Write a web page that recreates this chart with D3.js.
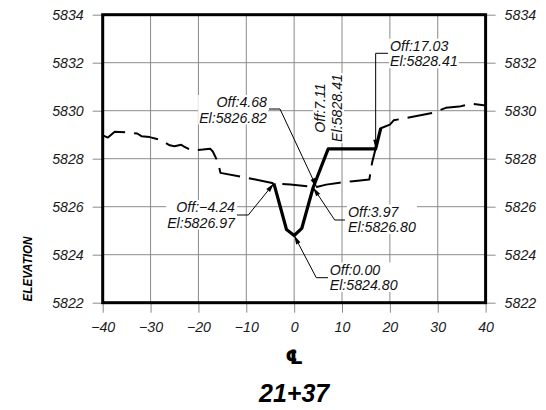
<!DOCTYPE html>
<html>
<head>
<meta charset="utf-8">
<script src="https://cdn.jsdelivr.net/npm/d3@7"></script>
<style>
  html, body { margin: 0; padding: 0; background: #fff; }
  svg { display: block; }
</style>
</head>
<body>
<svg id="chart" width="546" height="410"></svg>
<script>
// Cross section 21+37: existing ground (dashed) and ditch design (solid)

const xTicks = [-40, -30, -20, -10, 0, 10, 20, 30, 40];
const xTickLabels = ["\u221240", "\u221230", "\u221220", "\u221210", "0", "10", "20", "30", "40"];
const yTicks = [5822, 5824, 5826, 5828, 5830, 5832, 5834];
const yTickLabels = ["5822", "5824", "5826", "5828", "5830", "5832", "5834"];

// Existing ground profile
const groundOffsets = [-40, -38.9, -37.5, -35, -32.8, -31.9, -30.2, -28.2, -26, -25, -23.6, -23, -21.5,
  -19.1, -17.5, -17, -15.9, -15.4, -10.4, -8.1, -4.24, -0.8, 4.68, 6.7, 9.5, 12.3, 15.7, 16.3,
  18.1, 20.0, 20.8, 23, 27.2, 28.9, 31.7, 34.5, 37.2, 40];
const groundElevations = [5828.97, 5828.88, 5829.12, 5829.10, 5829.05, 5828.94, 5828.90, 5828.80, 5828.56,
  5828.52, 5828.58, 5828.50, 5828.35, 5828.38, 5828.41, 5828.30, 5827.85, 5827.41, 5827.22, 5827.13,
  5826.97, 5826.92, 5826.82, 5826.92, 5827.00, 5827.06, 5827.13, 5827.85, 5829.27, 5829.42, 5829.60,
  5829.68, 5829.84, 5829.91, 5830.12, 5830.17, 5830.29, 5830.22];

// Ditch design profile
const ditchOffsets = [-4.24, -1.6, 0.00, 1.6, 3.97, 7.11, 17.03, 18.1];
const ditchElevations = [5826.97, 5825.05, 5824.80, 5825.10, 5826.80, 5828.41, 5828.41, 5829.27];

// Labelled points
const calloutOffsets = [4.68, 7.11, 17.03, -4.24, 3.97, 0.00];
const calloutElevations = [5826.82, 5828.41, 5828.41, 5826.97, 5826.80, 5824.80];

const stationLabel = "21+37";
const axisTitle = "ELEVATION";
const centerlineMark = "\u2104";

const svg = d3.select("#chart");
svg.append("rect").attr("width", 546).attr("height", 410).attr("fill", "#fff");

const X0 = 102.7, X1 = 485.6, Y0 = 14.7, Y1 = 302.7;
const x = d3.scaleLinear().domain([-40, 40]).range([X0, X1]);
const y = d3.scaleLinear().domain([5822, 5834]).range([Y1, Y0]);

const gridColor = "#8a8a8a";
const tickFont = "'Liberation Sans', Arial, sans-serif";
const tickSize = "14.2px";

// grid
const grid = svg.append("g");
grid.selectAll("line.v").data(xTicks.slice(1, -1)).join("line")
  .attr("x1", d => x(d)).attr("x2", d => x(d)).attr("y1", Y0).attr("y2", Y1)
  .attr("stroke", gridColor).attr("stroke-width", 1);
grid.selectAll("line.h").data(yTicks.slice(1, -1)).join("line")
  .attr("x1", X0).attr("x2", X1).attr("y1", d => y(d)).attr("y2", d => y(d))
  .attr("stroke", gridColor).attr("stroke-width", 1);

function styleAxis(g) {
  g.select(".domain").remove();
  g.attr("font-family", null).attr("font-size", null);
  g.selectAll(".tick line").attr("stroke", gridColor).attr("stroke-width", 1);
  g.selectAll(".tick text")
    .attr("fill", "#1a1a1a")
    .style("font-family", tickFont)
    .style("font-style", "italic")
    .style("font-size", tickSize);
}

svg.append("g").attr("transform", `translate(${X0},0)`)
  .call(d3.axisLeft(y).tickValues(yTicks).tickFormat((d, i) => yTickLabels[i]).tickSize(10).tickPadding(9))
  .call(styleAxis);
svg.append("g").attr("transform", `translate(${X1},0)`)
  .call(d3.axisRight(y).tickValues(yTicks).tickFormat((d, i) => yTickLabels[i]).tickSize(10).tickPadding(9))
  .call(styleAxis);
const bottomAxis = svg.append("g").attr("transform", `translate(0,${Y1})`)
  .call(d3.axisBottom(x).tickValues(xTicks).tickFormat((d, i) => xTickLabels[i]).tickSize(10).tickPadding(9))
  .call(styleAxis);
bottomAxis.selectAll(".tick text").attr("y", 29.5).attr("dy", 0);

// profiles
const line = d3.line().x(d => x(d[0])).y(d => y(d[1]));
const groundPts = groundOffsets.map((o, i) => [o, groundElevations[i]]);
const ditchPts = ditchOffsets.map((o, i) => [o, ditchElevations[i]]);

svg.append("path").attr("d", line(groundPts))
  .attr("fill", "none").attr("stroke", "#000").attr("stroke-width", 2)
  .attr("stroke-dasharray", "25,9").attr("stroke-linejoin", "round");

svg.append("path").attr("d", line(ditchPts))
  .attr("fill", "none").attr("stroke", "#000").attr("stroke-width", 3.2)
  .attr("stroke-linejoin", "round");

// frame
svg.append("rect").attr("x", X0).attr("y", Y0).attr("width", X1 - X0).attr("height", Y1 - Y0)
  .attr("fill", "none").attr("stroke", "#000").attr("stroke-width", 3);

// callouts
const calloutLayout = [
  { anchor: "end",   tx: 267,   ty: 107,   attach: [269, 109],   elbow: 280 },
  { rotated: true,   tx: 325,   ty: 108 },
  { anchor: "start", tx: 390,   ty: 50.7,  attach: [388, 53.3],  elbow: null },
  { anchor: "end",   tx: 235,   ty: 212,   attach: [237, 215],   elbow: 248.3 },
  { anchor: "start", tx: 348,   ty: 216.5, attach: [345, 220],   elbow: 334.7 },
  { anchor: "start", tx: 329.7, ty: 274.5, attach: [328, 277.7], elbow: 316.3 }
];

function fmtOff(v) {
  const s = Math.abs(v).toFixed(2);
  return "Off:" + (v < 0 ? "\u2212" : "") + s;
}

const labels = svg.append("g");
const leaders = svg.append("g");

calloutOffsets.forEach((off, i) => {
  const el = calloutElevations[i];
  const L = calloutLayout[i];
  const lines = [fmtOff(off), "El:" + el.toFixed(2)];
  const g = labels.append("g");
  if (L.rotated) g.attr("transform", `translate(${L.tx},${L.ty}) rotate(-90)`);
  else g.attr("transform", `translate(${L.tx},${L.ty})`);
  const bg = g.append("rect").attr("fill", "#fff");
  const t = g.append("text")
    .attr("text-anchor", L.rotated ? "middle" : L.anchor)
    .attr("fill", "#111")
    .style("font-family", tickFont)
    .style("font-style", "italic")
    .style("font-size", tickSize);
  lines.forEach((s, k) => {
    t.append("tspan").attr("x", 0).attr("y", k * (L.rotated ? 17 : 15.5)).text(s);
  });
  const bb = t.node().getBBox();
  bg.attr("x", bb.x - 1).attr("y", bb.y + 1).attr("width", bb.width + 2).attr("height", bb.height - 2);

  if (L.attach) {
    const tipX = x(off), tipY = y(el);
    const ex = L.elbow == null ? tipX : L.elbow;
    leaders.append("polyline")
      .attr("points", [[L.attach[0], L.attach[1]], [ex, L.attach[1]], [tipX, tipY]].map(p => p.join(",")).join(" "))
      .attr("fill", "none").attr("stroke", "#000").attr("stroke-width", 1);
    const ang = Math.atan2(tipY - L.attach[1], tipX - ex);
    const len = 9, hw = 2.4;
    const bx = tipX - len * Math.cos(ang), by = tipY - len * Math.sin(ang);
    const px = -Math.sin(ang) * hw, py = Math.cos(ang) * hw;
    leaders.append("polygon")
      .attr("points", `${tipX},${tipY} ${bx + px},${by + py} ${bx - px},${by - py}`)
      .attr("fill", "#000");
  }
});

// titles
svg.append("text")
  .attr("transform", "translate(31.5,269) rotate(-90)")
  .attr("text-anchor", "middle")
  .attr("textLength", 65).attr("lengthAdjust", "spacingAndGlyphs")
  .style("font-family", "'Liberation Sans', Arial, sans-serif")
  .style("font-weight", "bold").style("font-style", "italic").style("font-size", "13px")
  .text(axisTitle);

svg.append("text")
  .attr("x", x(0)).attr("y", 364)
  .attr("text-anchor", "middle")
  .style("font-family", "'DejaVu Sans', sans-serif")
  .style("font-weight", "bold").style("font-size", "20px")
  .text(centerlineMark);

svg.append("text")
  .attr("x", x(0)).attr("y", 401.5)
  .attr("text-anchor", "middle")
  .style("font-family", "'Liberation Sans', Arial, sans-serif")
  .style("font-weight", "bold").style("font-style", "italic").style("font-size", "25px")
  .text(stationLabel);
</script>
</body>
</html>
